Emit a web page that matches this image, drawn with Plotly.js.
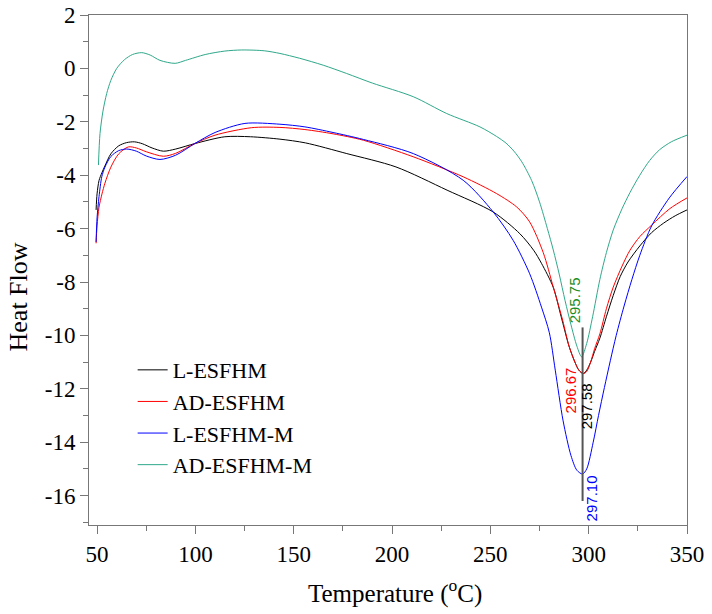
<!DOCTYPE html>
<html>
<head>
<meta charset="utf-8">
<script src="https://cdn.plot.ly/plotly-3.0.1.min.js"></script>
<style>html,body{margin:0;padding:0;background:#fff;}#chart{width:712px;height:614px;}</style>
</head>
<body>
<div id="chart"></div>
<script>
// ---- Data ----
const seriesNames = ["L-ESFHM", "AD-ESFHM", "L-ESFHM-M", "AD-ESFHM-M"];
const seriesColors = ["#000000", "#ff0000", "#0000ff", "#2fa88a"];

const tBlack = [49.5, 50, 51, 52.5, 54, 57, 61, 65, 69, 73, 78, 83.7, 90, 100, 115, 128, 143, 156, 177, 202, 228, 251.5, 265, 272, 276, 282, 286, 290, 293, 295, 297.2, 299, 301, 303, 305.7, 309, 312.5, 316, 320, 326, 332, 338, 344, 350];
const vBlack = [-5.3, -4.7, -4.2, -3.9, -3.65, -3.2, -2.9, -2.78, -2.75, -2.82, -2.98, -3.10, -3.02, -2.81, -2.56, -2.56, -2.65, -2.79, -3.19, -3.69, -4.56, -5.38, -6.19, -6.81, -7.3, -8.2, -9.3, -10.4, -11.0, -11.3, -11.43, -11.3, -11.0, -10.6, -10.1, -9.3, -8.5, -7.8, -7.25, -6.65, -6.15, -5.8, -5.52, -5.3];

const tRed = [49.5, 50, 51, 52.5, 54, 57, 61, 65.9, 70, 75, 83.7, 90, 99.8, 110, 128.6, 143, 155.7, 170, 185.4, 210.8, 236.2, 253.2, 263.4, 270, 276.9, 282, 286.8, 290, 293, 295, 297.2, 299, 301, 303, 305.7, 309, 312.5, 317, 321, 326, 332, 341.3, 350];
const vRed = [-6.55, -5.9, -5.2, -4.7, -4.3, -3.7, -3.2, -2.94, -2.98, -3.12, -3.29, -3.18, -2.81, -2.5, -2.22, -2.21, -2.29, -2.45, -2.69, -3.31, -4.06, -4.69, -5.19, -5.75, -6.9, -8.19, -9.44, -10.4, -11.0, -11.3, -11.43, -11.35, -11.0, -10.5, -9.94, -9.0, -8.19, -7.4, -6.81, -6.3, -5.87, -5.25, -4.85];

const tBlue = [49.5, 50, 51, 52.4, 54, 57, 61, 65.1, 70, 75, 82, 90, 99.8, 110, 125.2, 143, 155.7, 170, 185.4, 210.8, 236.2, 251.5, 261.6, 270, 276, 280, 283, 287, 291, 294, 296.9, 299, 302.3, 305, 308, 311, 314, 318, 322, 326, 332, 341, 350];
const vBlue = [-6.5, -5.6, -4.8, -4.06, -3.7, -3.3, -3.08, -3.02, -3.1, -3.28, -3.41, -3.25, -2.81, -2.4, -2.06, -2.09, -2.19, -2.4, -2.66, -3.19, -4.19, -5.38, -6.44, -7.69, -8.94, -9.9, -11.3, -13.2, -14.5, -15.05, -15.19, -15.0, -14.0, -13.0, -11.95, -10.95, -10.0, -8.9, -7.9, -7.0, -5.9, -4.85, -4.05];

const tGreen = [50.7, 51.5, 53, 54.9, 57, 60, 64, 68, 72.7, 77, 82, 89.7, 95, 105, 115, 123.6, 135, 143, 153, 165, 176.9, 190, 210.8, 227.8, 244.7, 253.2, 258, 262, 266, 271, 275, 279, 282, 285, 288, 291, 294, 296.4, 299, 302, 305.7, 309, 312.5, 317, 321, 326, 331, 336, 342, 350];
const vGreen = [-3.62, -2.44, -1.6, -0.94, -0.45, 0.0, 0.33, 0.52, 0.59, 0.5, 0.3, 0.19, 0.3, 0.52, 0.65, 0.69, 0.66, 0.56, 0.38, 0.12, -0.19, -0.55, -1.06, -1.69, -2.19, -2.55, -2.8, -3.1, -3.5, -4.2, -5.0, -6.0, -6.8, -7.7, -8.7, -9.6, -10.4, -10.8, -10.3, -9.3, -7.9, -6.9, -6.05, -5.25, -4.65, -4.0, -3.45, -3.05, -2.75, -2.5];

const peakLabels = ["295.75", "296.67", "297.58", "297.10"];
const peakLabelColors = ["#1e8c1e", "#ff0000", "#000000", "#0000ff"];
const peakLabelT = [293.0, 290.5, 299.1, 301.6];
const peakLabelV = [-8.69, -12.06, -12.66, -16.11];
const peakMarkT = 296.9;
const peakMarkV = [-9.7, -16.2];

const xTicks = [50, 100, 150, 200, 250, 300, 350];
const yTicks = [2, 0, -2, -4, -6, -8, -10, -12, -14, -16];

// ---- Build chart ----
const tArr = [tBlack, tRed, tBlue, tGreen];
const vArr = [vBlack, vRed, vBlue, vGreen];
const traces = seriesNames.map((n, i) => ({
  x: tArr[i], y: vArr[i], name: n, type: "scatter", mode: "lines",
  line: {color: seriesColors[i], width: 1, shape: "spline", smoothing: 0.8}
}));

const serif = "Liberation Serif";
const annotations = peakLabels.map((t, i) => ({
  x: peakLabelT[i], y: peakLabelV[i], xref: "x", yref: "y", text: t,
  textangle: -90, showarrow: false, xanchor: "center", yanchor: "middle",
  font: {family: "Liberation Sans", size: 15, color: peakLabelColors[i]}
}));
annotations.push({
  xref: "paper", yref: "paper", x: -0.118, y: 0.447, text: "Heat Flow",
  xanchor: "center", yanchor: "middle",
  textangle: -90, showarrow: false, font: {family: serif, size: 26, color: "#000"}
});
annotations.push({
  xref: "paper", yref: "paper", x: 0.512, y: -0.131, text: "Temperature (<sup>o</sup>C)",
  xanchor: "center", yanchor: "middle",
  showarrow: false, font: {family: serif, size: 25, color: "#000"}
});

const layout = {
  width: 712, height: 614,
  margin: {l: 89, r: 25, t: 15, b: 89},
  paper_bgcolor: "#fff", plot_bgcolor: "#fff",
  font: {family: serif, size: 22, color: "#000"},
  showlegend: true,
  legend: {x: 0.073, y: 0.345, xanchor: "left", yanchor: "top", bgcolor: "rgba(0,0,0,0)",
           font: {family: serif, size: 22, color: "#000"}},
  xaxis: {
    range: [45.9, 350], tickmode: "array", tickvals: xTicks, ticktext: xTicks.map(String),
    showgrid: false, zeroline: false,
    showline: true, linecolor: "#777", linewidth: 1, mirror: true,
    ticks: "outside", ticklen: 8, tickcolor: "#777",
    minor: {dtick: 25, tick0: 0, ticks: "outside", ticklen: 5, tickcolor: "#777"},
    tickfont: {family: serif, size: 23, color: "#000"}
  },
  yaxis: {
    range: [-17.1, 2], tickmode: "array", tickvals: yTicks, ticktext: yTicks.map(String),
    showgrid: false, zeroline: false,
    showline: true, linecolor: "#777", linewidth: 1, mirror: true,
    ticks: "outside", ticklen: 8, tickcolor: "#777",
    minor: {dtick: 1, tick0: 0, ticks: "outside", ticklen: 5, tickcolor: "#777"},
    tickfont: {family: serif, size: 23, color: "#000"}
  },
  shapes: [{type: "line", xref: "x", yref: "y", x0: peakMarkT, x1: peakMarkT,
            y0: peakMarkV[0], y1: peakMarkV[1], line: {color: "#555", width: 2}}],
  annotations: annotations
};

Plotly.newPlot("chart", traces, layout, {displayModeBar: false, staticPlot: true});
</script>
</body>
</html>
